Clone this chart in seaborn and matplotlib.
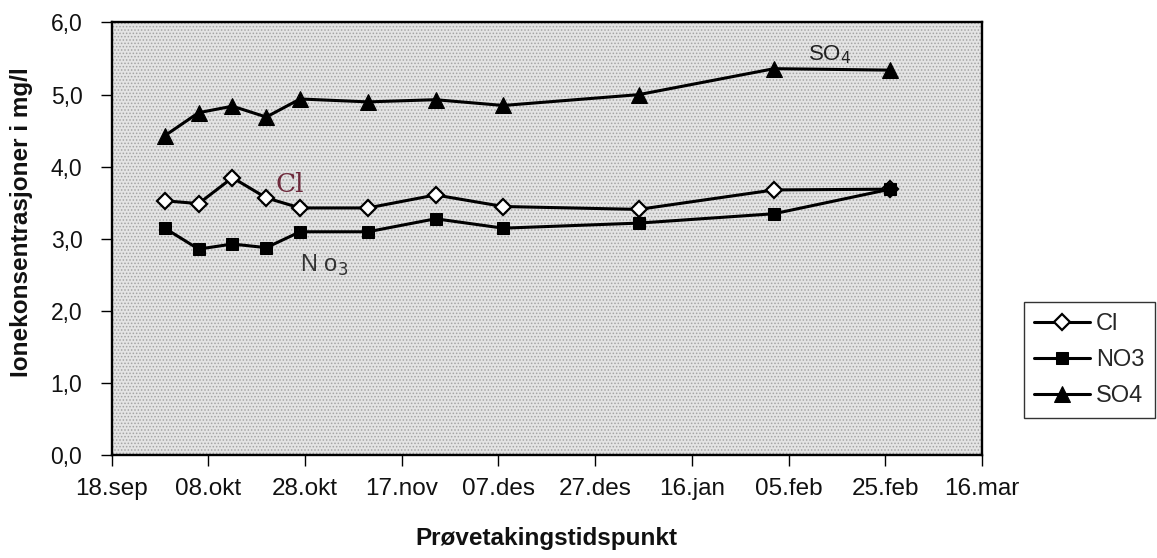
import matplotlib
matplotlib.use("Agg")
import matplotlib.pyplot as plt
from matplotlib.patches import Rectangle
import seaborn as sns
import pandas as pd

# === Data ===
sample_dates = ["1995-09-29", "1995-10-06", "1995-10-13", "1995-10-20", "1995-10-27",
                "1995-11-10", "1995-11-24", "1995-12-08", "1996-01-05", "1996-02-02",
                "1996-02-26"]
cl = [3.53, 3.49, 3.85, 3.57, 3.43, 3.43, 3.61, 3.45, 3.41, 3.68, 3.69]
no3 = [3.15, 2.86, 2.93, 2.88, 3.10, 3.10, 3.28, 3.15, 3.22, 3.35, 3.69]
so4 = [4.43, 4.75, 4.84, 4.69, 4.94, 4.90, 4.93, 4.85, 5.00, 5.36, 5.34]

x_tick_dates = ["1995-09-18", "1995-10-08", "1995-10-28", "1995-11-17", "1995-12-07",
                "1995-12-27", "1996-01-16", "1996-02-05", "1996-02-25", "1996-03-16"]
x_tick_labels = ["18.sep", "08.okt", "28.okt", "17.nov", "07.des",
                 "27.des", "16.jan", "05.feb", "25.feb", "16.mar"]
y_ticks = [0, 1, 2, 3, 4, 5, 6]
y_tick_labels = ["0,0", "1,0", "2,0", "3,0", "4,0", "5,0", "6,0"]

dates = pd.to_datetime(sample_dates)
tick_dates = pd.to_datetime(x_tick_dates)

sns.set_theme(style="white")
plt.rcParams["font.family"] = ["Liberation Sans", "DejaVu Sans"]
plt.rcParams["hatch.linewidth"] = 0.7

fig = plt.figure(figsize=(11.57, 5.58), dpi=100)
ax = fig.add_axes([0.0964, 0.1837, 0.7523, 0.776])

# stippled grey plot area
ax.set_facecolor("#e4e4e4")
ax.add_patch(Rectangle((0, 0), 1, 1, transform=ax.transAxes, facecolor="none",
                       edgecolor="#a4a4a4", hatch=".....", linewidth=0, zorder=0))

sns.lineplot(x=dates, y=cl, ax=ax, color="black", linewidth=2.2, marker="D",
             markersize=8, markerfacecolor="white", markeredgecolor="black",
             markeredgewidth=1.6, label="Cl", zorder=3)
sns.lineplot(x=dates, y=no3, ax=ax, color="black", linewidth=2.2, marker="s",
             markersize=9, markerfacecolor="black", markeredgecolor="black",
             label="NO3", zorder=3)
sns.lineplot(x=dates, y=so4, ax=ax, color="black", linewidth=2.2, marker="^",
             markersize=11, markerfacecolor="black", markeredgecolor="black",
             label="SO4", zorder=3)

ax.set_xlim(tick_dates[0], tick_dates[-1])
ax.set_ylim(0, 6)
ax.set_xticks(tick_dates)
ax.set_xticklabels(x_tick_labels)
ax.set_yticks(y_ticks)
ax.set_yticklabels(y_tick_labels)
ax.tick_params(axis="both", which="major", direction="out", length=8, width=1,
               color="black", labelcolor="#111111", bottom=True, left=True)
ax.tick_params(axis="x", pad=8, labelsize=17.5)
ax.tick_params(axis="y", pad=13, labelsize=16.5)

for side in ["top", "right", "bottom", "left"]:
    ax.spines[side].set_color("black")
    ax.spines[side].set_linewidth(1.7)

ax.set_xlabel("Prøvetakingstidspunkt", fontsize=17.5, fontweight="bold",
              color="#111111")
ax.set_ylabel("Ionekonsentrasjoner i mg/l", fontsize=17.5, fontweight="bold",
              color="#111111")
ax.xaxis.set_label_coords(0.5, -0.165)
ax.yaxis.set_label_coords(-0.09, 0.54)

# handwritten notes on the scanned chart
ax.text(pd.Timestamp("1995-10-22"), 3.65, "Cl", fontsize=19, color="#6e2a3c",
        family="DejaVu Serif")
ax.text(pd.Timestamp("1995-10-27"), 2.54, "N o$_3$", fontsize=17, color="#333333")
ax.text(pd.Timestamp("1996-02-09"), 5.48, "SO$_4$", fontsize=16, color="#222222")

leg = ax.legend(loc="lower right", bbox_to_anchor=(0.998, 0.2509),
                bbox_transform=fig.transFigure, borderaxespad=0, frameon=True,
                fancybox=False, edgecolor="black", fontsize=17, handlelength=2.35,
                labelspacing=0.6, borderpad=0.45, handletextpad=0.25)
leg.get_frame().set_linewidth(1.0)
leg.get_frame().set_facecolor("white")

fig.savefig("out.png", dpi=100)
